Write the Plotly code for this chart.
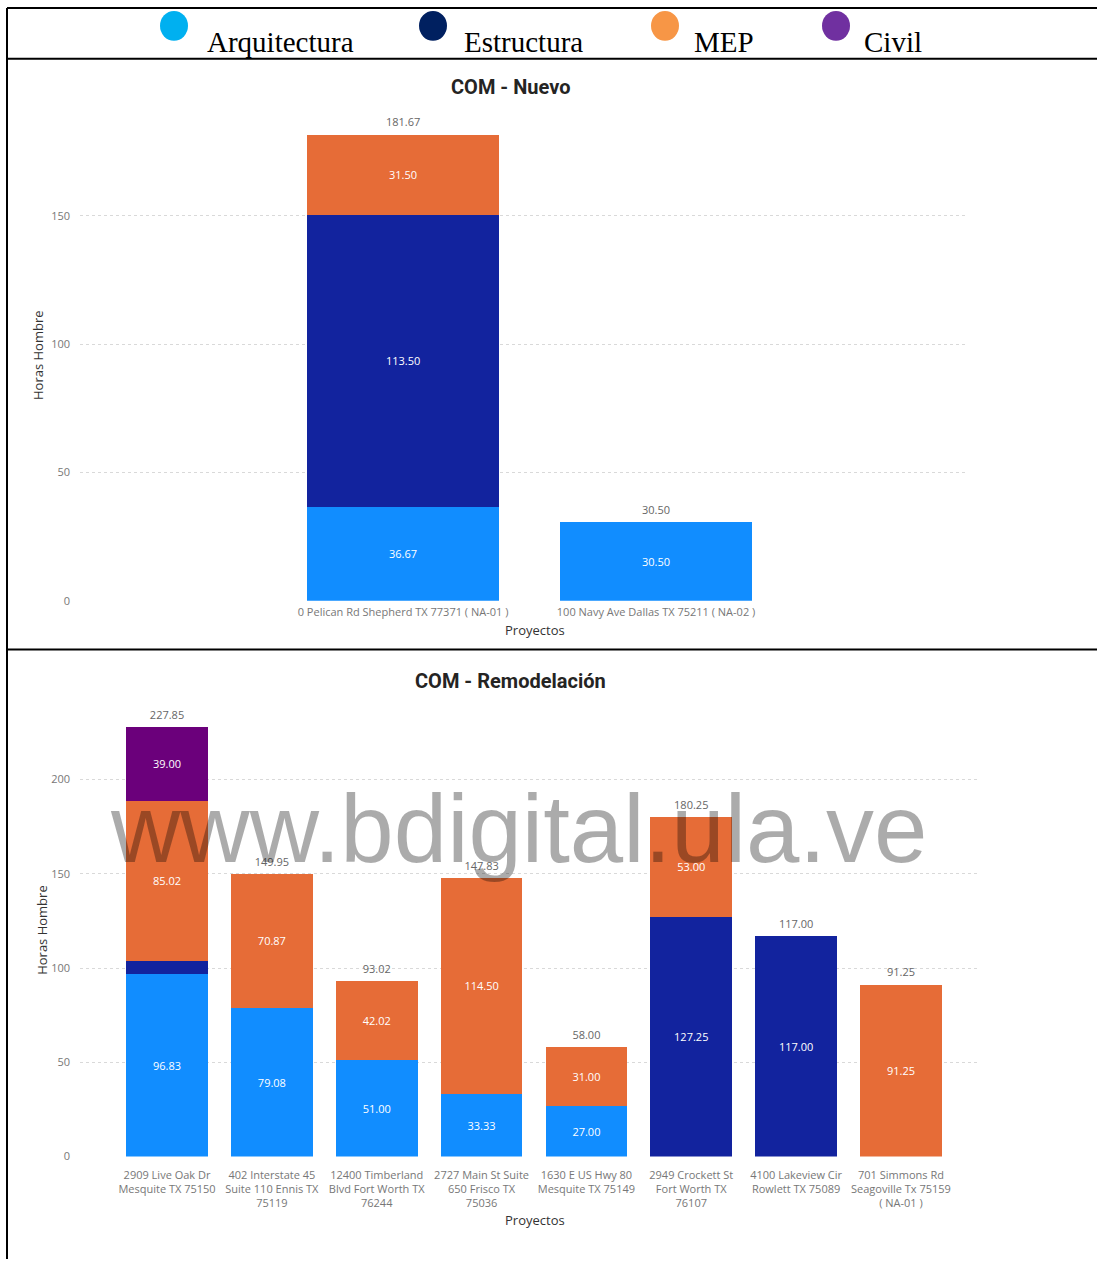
import plotly.graph_objects as go

W, H = 1097, 1266

# Legend entries shown in the header strip
legend_names = ["Arquitectura", "Estructura", "MEP", "Civil"]
legend_colors = ["#00B0F0", "#002060", "#F79646", "#7030A0"]

# Disciplines and bar colours
disciplines = ["Arquitectura", "Estructura", "MEP", "Civil"]
bar_colors = ["#118DFF", "#12239E", "#E66C37", "#6B007B"]

# COM - Nuevo
nuevo_projects = [
    "0 Pelican Rd Shepherd TX 77371 ( NA-01 )",
    "100 Navy Ave Dallas TX 75211 ( NA-02 )",
]
nuevo_arq = [36.67, 30.50]
nuevo_est = [113.50, 0]
nuevo_mep = [31.50, 0]
nuevo_civil = [0, 0]

# COM - Remodelación
remo_projects = [
    "2909 Live Oak Dr<br>Mesquite TX 75150",
    "402 Interstate 45<br>Suite 110 Ennis TX<br>75119",
    "12400 Timberland<br>Blvd Fort Worth TX<br>76244",
    "2727 Main St Suite<br>650 Frisco TX<br>75036",
    "1630 E US Hwy 80<br>Mesquite TX 75149",
    "2949 Crockett St<br>Fort Worth TX<br>76107",
    "4100 Lakeview Cir<br>Rowlett TX 75089",
    "701 Simmons Rd<br>Seagoville Tx 75159<br>( NA-01 )",
]
remo_arq = [96.83, 79.08, 51.00, 33.33, 27.00, 0, 0, 0]
remo_est = [7.00, 0, 0, 0, 0, 127.25, 117.00, 0]
remo_mep = [85.02, 70.87, 42.02, 114.50, 31.00, 53.00, 0, 91.25]
remo_civil = [39.00, 0, 0, 0, 0, 0, 0, 0]

TICK_FONT = dict(family="Open Sans", size=11, color="#777777")
LABEL_FONT = dict(family="Open Sans", size=11, color="#FFFFFF")
TOTAL_FONT = dict(family="Open Sans", size=11, color="#666666")


def px_x(p):
    return p / W


def px_y(p):
    return 1 - p / H


def seg_text(vals):
    return [f"{v:.2f}" if v >= 10 else "" for v in vals]


fig = go.Figure()


def add_chart(projects, series, xa, ya, width):
    for name, color, vals in zip(disciplines, bar_colors, series):
        fig.add_trace(go.Bar(
            x=projects, y=vals, name=name, xaxis=xa, yaxis=ya,
            marker=dict(color=color, line=dict(width=0)),
            width=width,
            text=seg_text(vals), textposition="inside",
            insidetextanchor="middle", textangle=0,
            textfont=LABEL_FONT, showlegend=False, cliponaxis=False,
        ))
    totals = [round(sum(v), 2) for v in zip(*series)]
    # invisible markers give the total labels some room above the bars
    fig.add_trace(go.Scatter(
        x=projects, y=totals, xaxis=xa, yaxis=ya, mode="markers+text",
        marker=dict(size=7, color="rgba(0,0,0,0)"),
        text=[f"{t:.2f}" for t in totals], textposition="top center",
        textfont=TOTAL_FONT, showlegend=False, cliponaxis=False,
        hoverinfo="skip",
    ))


add_chart(nuevo_projects, [nuevo_arq, nuevo_est, nuevo_mep, nuevo_civil], "x", "y", 0.76)
add_chart(remo_projects, [remo_arq, remo_est, remo_mep, remo_civil], "x2", "y2", 0.78)

axis_common = dict(
    showline=False, zeroline=False, ticks="", tickfont=TICK_FONT,
    fixedrange=True,
)
grid = dict(showgrid=True, gridcolor="#D9D9D9", griddash="dot", gridwidth=1)

fig.update_layout(
    width=W, height=H, margin=dict(l=0, r=0, t=0, b=0),
    paper_bgcolor="white", plot_bgcolor="white",
    barmode="stack", showlegend=False,
    font=dict(family="Open Sans"),
    xaxis=dict(domain=[px_x(80), px_x(968)], type="category",
               range=[-1.277, 2.233], showgrid=False, anchor="y",
               ticklabelstandoff=3, **axis_common),
    yaxis=dict(domain=[px_y(604), px_y(100)], range=[0, 195.35],
               tickvals=[0, 50, 100, 150], anchor="x",
               ticklabelstandoff=9, **grid, **axis_common),
    xaxis2=dict(domain=[px_x(80), px_x(980)], type="category",
                range=[-0.83, 7.754], showgrid=False, anchor="y2",
                ticklabelstandoff=10, **axis_common),
    yaxis2=dict(domain=[px_y(1163), px_y(700)], range=[0, 244.3],
                tickvals=[0, 50, 100, 150, 200], anchor="x2",
                ticklabelstandoff=9, **grid, **axis_common),
)

shapes = []
# Frame lines
line = dict(color="black", width=2)
for yy in (8, 59, 653):
    shapes.append(dict(type="line", xref="paper", yref="paper",
                       x0=px_x(7), x1=1, y0=px_y(yy), y1=px_y(yy), line=line))
shapes.append(dict(type="line", xref="paper", yref="paper",
                   x0=px_x(7), x1=px_x(7), y0=px_y(8), y1=0, line=line))

annotations = []
# Header legend
dot_x = [174, 433, 665, 836]
text_x = [206, 463, 693, 863]
for name, color, dx, tx in zip(legend_names, legend_colors, dot_x, text_x):
    shapes.append(dict(type="circle", xref="paper", yref="paper",
                       x0=px_x(dx - 14), x1=px_x(dx + 14),
                       y0=px_y(41), y1=px_y(11),
                       fillcolor=color, line=dict(width=0)))
    annotations.append(dict(text=name, xref="paper", yref="paper",
                            x=px_x(tx - 1), y=px_y(42), xanchor="left",
                            yanchor="middle", showarrow=False,
                            font=dict(family="Liberation Serif", size=29,
                                      color="black")))

title_font = dict(family="Roboto", size=20, color="#252423")
axis_title_font = dict(family="Open Sans", size=13, color="#333333")


def note(text, x, y, font, angle=0):
    return dict(text=text, xref="paper", yref="paper", x=px_x(x), y=px_y(y),
                xanchor="center", yanchor="middle", showarrow=False,
                textangle=angle, font=font)


annotations += [
    note("<b>COM - Nuevo</b>", 510, 87, title_font),
    note("<b>COM - Remodelación</b>", 510, 685, title_font),
    note("Proyectos", 535, 634, axis_title_font),
    note("Proyectos", 535, 1227, axis_title_font),
    note("Horas Hombre", 38, 357, axis_title_font, -90),
    note("Horas Hombre", 42, 935, axis_title_font, -90),
    # Repository watermark
    note("www.bdigital.ula.ve", 518, 833,
         dict(family="Liberation Sans", size=96, color="rgba(0,0,0,0.33)")),
]

fig.update_layout(shapes=shapes, annotations=annotations)

fig.write_html("out.html")
